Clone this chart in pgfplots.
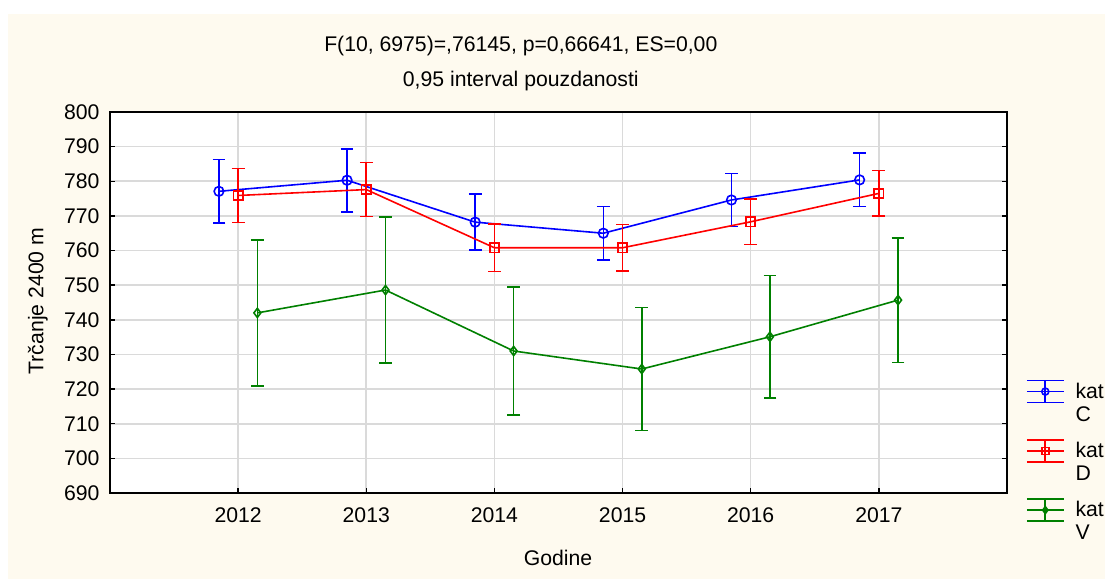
\documentclass[border=0pt]{standalone}
\usepackage{pgfplots}
\pgfplotsset{compat=1.18}
\usepackage{fontspec}
\setmainfont{Liberation Sans}
\definecolor{cream}{RGB}{254,250,239}
\definecolor{gridgray}{RGB}{218,218,218}
\definecolor{sgreen}{RGB}{0,128,0}
\begin{document}
\fontsize{10.6}{11.5}\selectfont
\begin{tikzpicture}
\fill[white] (-55pt,-43pt) rectangle (497.5pt,246.5pt);
\fill[cream] (-51pt,-43pt) rectangle (497.5pt,239.5pt);
\begin{axis}[
  at={(0,0)}, anchor=south west,
  scale only axis, width=448.5pt, height=190.5pt,
  xmin=2011, xmax=2018, ymin=690, ymax=800,
  xtick={2012,2013,2014,2015,2016,2017},
  ytick={690,700,...,800},
  xticklabel style={/pgf/number format/1000 sep=, yshift=-3.5pt},
  yticklabel style={xshift=-1.5pt},
  /pgf/number format/assume math mode=true,
  tick align=inside, major tick length=2.5pt,
  xtick pos=bottom,
  tick style={black, line width=0.75pt},
  axis line style={black, line width=0.9pt},
  axis background/.style={fill=white},
  grid=major, major grid style={gridgray, line width=0.8pt},
  xlabel={Godine}, ylabel={Trčanje 2400 m},
  xlabel style={at={(axis description cs:0.4994,-0.1706)}, anchor=center},
  ylabel style={at={(axis description cs:-0.0803,0.504)}, anchor=center},
  legend style={draw=none, fill=none, at={(axis description cs:1.0212,0.302)}, anchor=north west,
    inner sep=0pt, outer sep=0pt, row sep=16pt, column sep=3.5pt,
    nodes={inner sep=2pt}, cells={anchor=west}},
  legend image code/.code={
    \draw[#1,mark=none] (0pt,5.5pt)--(18.5pt,5.5pt) (0pt,-5.5pt)--(18.5pt,-5.5pt) (0pt,0pt)--(18.5pt,0pt) (9.25pt,-5.5pt)--(9.25pt,5.5pt);
    \draw[#1, mark size=1.75pt] plot coordinates {(9.25pt,0pt)};
  },
  clip=false,
]
\addplot[blue, line width=0.8pt, mark=o, mark size=2.4pt, mark options={line width=0.8pt},
  error bars/.cd, y dir=both, y explicit,
  error bar style={line width=0.8pt},
  error mark options={rotate=90, mark size=3.2pt, line width=0.8pt}]
 coordinates {
 (2011.85,777.1) +- (0,9.2)
 (2012.85,780.3) +- (0,9.1)
 (2013.85,768.2) +- (0,8.1)
 (2014.85,765.0) +- (0,7.7)
 (2015.85,774.6) +- (0,7.7)
 (2016.85,780.4) +- (0,7.7)
 };
\addlegendentry{\begin{tabular}[t]{@{}l@{}}kat\\C\end{tabular}}
\addplot[red, line width=0.8pt, mark=square, mark size=2.3pt, mark options={line width=0.8pt},
  error bars/.cd, y dir=both, y explicit,
  error bar style={line width=0.8pt},
  error mark options={rotate=90, mark size=3.2pt, line width=0.8pt}]
 coordinates {
 (2012,775.9) +- (0,7.8)
 (2013,777.6) +- (0,7.8)
 (2014,760.8) +- (0,6.9)
 (2015,760.8) +- (0,6.7)
 (2016,768.3) +- (0,6.6)
 (2017,776.5) +- (0,6.6)
 };
\addlegendentry{\begin{tabular}[t]{@{}l@{}}kat\\D\end{tabular}}
\addplot[sgreen, line width=0.8pt, mark=diamond, mark size=2.3pt, mark options={line width=0.8pt},
  error bars/.cd, y dir=both, y explicit,
  error bar style={line width=0.8pt},
  error mark options={rotate=90, mark size=3.2pt, line width=0.8pt}]
 coordinates {
 (2012.15,742.0) +- (0,21.1)
 (2013.15,748.6) +- (0,21.0)
 (2014.15,731.0) +- (0,18.5)
 (2015.15,725.8) +- (0,17.7)
 (2016.15,735.1) +- (0,17.7)
 (2017.15,745.7) +- (0,18.0)
 };
\addlegendentry{\begin{tabular}[t]{@{}l@{}}kat\\V\end{tabular}}
\node[anchor=base] at (axis description cs:0.458,1.1575) {F(10, 6975)=,76145, p=0,66641, ES=0,00};
\node[anchor=base] at (axis description cs:0.458,1.068) {0,95 interval pouzdanosti};
\end{axis}
\pgfresetboundingbox
\path[use as bounding box] (-55pt,-43pt) rectangle (497.5pt,246.5pt);
\end{tikzpicture}
\end{document}
